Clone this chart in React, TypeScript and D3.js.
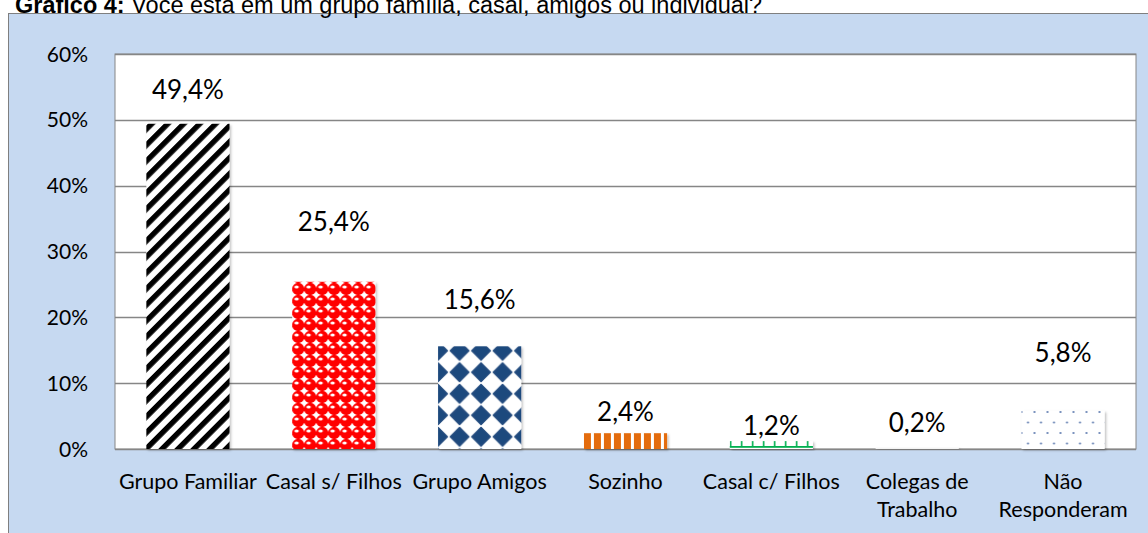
import { useEffect, useRef } from "react";
import * as d3 from "d3";

// chart data
const categories = [
  "Grupo Familiar",
  "Casal s/ Filhos",
  "Grupo Amigos",
  "Sozinho",
  "Casal c/ Filhos",
  "Colegas de Trabalho",
  "Não Responderam",
];
const categoryLines = [
  ["Grupo Familiar"],
  ["Casal s/ Filhos"],
  ["Grupo Amigos"],
  ["Sozinho"],
  ["Casal c/ Filhos"],
  ["Colegas de", "Trabalho"],
  ["Não", "Responderam"],
];
const values = [49.4, 25.4, 15.6, 2.4, 1.2, 0.2, 5.8];
const valueLabels = ["49,4%", "25,4%", "15,6%", "2,4%", "1,2%", "0,2%", "5,8%"];
const yTicks = [0, 10, 20, 30, 40, 50, 60];
const titleBold = "Gráfico 4:";
const titleRest = " Você está em um grupo família, casal, amigos ou individual?";

// label baseline distance above bar top (hand placed in the original)
const LABEL_GAP = [25, 51, 37, 12, 6, 16, 49];
const FILLS = [
  "url(#p-stripe)",
  "url(#p-sphere)",
  "url(#p-diamond)",
  "url(#p-vert)",
  "url(#p-brick)",
  "#f4f4f4",
  "url(#p-dots)",
];

export default function App() {
  const ref = useRef<SVGSVGElement>(null);

  useEffect(() => {
    const svg = d3.select(ref.current);
    svg.selectAll("*").remove();

    const W = 1148;
    const H = 533;
    const PLOT = { LEFT: 115, RIGHT: 1136, TOP: 54, BOTTOM: 449 };
    const labelFont = "Lato, 'Open Sans', sans-serif";

    const x = d3
      .scaleBand<string>()
      .domain(categories)
      .range([PLOT.LEFT, PLOT.RIGHT])
      .paddingInner(0.43)
      .paddingOuter(0.215);
    const y = d3.scaleLinear().domain([0, 60]).range([PLOT.BOTTOM, PLOT.TOP]);

    const defs = svg.append("defs");

    // black wide upward diagonal
    const ps = defs
      .append("pattern")
      .attr("id", "p-stripe")
      .attr("patternUnits", "userSpaceOnUse")
      .attr("width", 11.3)
      .attr("height", 11.3)
      .attr("patternTransform", "rotate(45)");
    ps.append("rect").attr("width", 11.3).attr("height", 11.3).attr("fill", "#fff");
    ps.append("rect").attr("width", 5.4).attr("height", 11.3).attr("fill", "#000");

    // red spheres
    const pr = defs
      .append("pattern")
      .attr("id", "p-sphere")
      .attr("patternUnits", "userSpaceOnUse")
      .attr("x", x(categories[1])!)
      .attr("y", 283)
      .attr("width", 12)
      .attr("height", 12);
    pr.append("rect").attr("width", 12).attr("height", 12).attr("fill", "#fff");
    pr.append("circle").attr("cx", 6).attr("cy", 6).attr("r", 6.1).attr("fill", "#ff0000");
    pr.append("ellipse")
      .attr("cx", 4.4)
      .attr("cy", 4)
      .attr("rx", 2.2)
      .attr("ry", 1.6)
      .attr("fill", "#fff");

    // blue diamonds
    const pd = defs
      .append("pattern")
      .attr("id", "p-diamond")
      .attr("patternUnits", "userSpaceOnUse")
      .attr("x", x(categories[2])! - 10.75)
      .attr("y", 340)
      .attr("width", 21.5)
      .attr("height", 21.5);
    pd.append("rect").attr("width", 21.5).attr("height", 21.5).attr("fill", "#fff");
    pd.append("path")
      .attr("d", "M10.75,1.5 L20,10.75 L10.75,20 L1.5,10.75 Z")
      .attr("fill", "#1f497d")
      .attr("stroke", "#1f497d")
      .attr("stroke-width", 1.5)
      .attr("stroke-linejoin", "round");

    // orange vertical stripes
    const pv = defs
      .append("pattern")
      .attr("id", "p-vert")
      .attr("patternUnits", "userSpaceOnUse")
      .attr("x", x(categories[3])!)
      .attr("width", 10)
      .attr("height", 10);
    pv.append("rect").attr("width", 10).attr("height", 10).attr("fill", "#fff");
    pv.append("rect").attr("width", 7).attr("height", 10).attr("fill", "#e46c0a");

    // green brick
    const pb = defs
      .append("pattern")
      .attr("id", "p-brick")
      .attr("patternUnits", "userSpaceOnUse")
      .attr("x", x(categories[4])! - 5)
      .attr("y", 441)
      .attr("width", 11)
      .attr("height", 12);
    pb.append("rect").attr("width", 11).attr("height", 12).attr("fill", "#fff");
    pb.append("rect").attr("y", 5).attr("width", 11).attr("height", 1.8).attr("fill", "#00b050");
    pb.append("rect").attr("x", 5).attr("width", 1.6).attr("height", 6).attr("fill", "#00b050");

    // sparse dots
    const pdt = defs
      .append("pattern")
      .attr("id", "p-dots")
      .attr("patternUnits", "userSpaceOnUse")
      .attr("x", x(categories[6])! - 3)
      .attr("y", 408)
      .attr("width", 13)
      .attr("height", 21);
    pdt.append("rect").attr("width", 13).attr("height", 21).attr("fill", "#fff");
    pdt.append("circle").attr("cx", 3).attr("cy", 4).attr("r", 1).attr("fill", "#4f6fa8");
    pdt.append("circle").attr("cx", 9.5).attr("cy", 14.5).attr("r", 1).attr("fill", "#4f6fa8");

    const shadow = defs.append("filter").attr("id", "sh").attr("x", "-10%").attr("y", "-10%")
      .attr("width", "130%").attr("height", "130%");
    shadow.append("feDropShadow")
      .attr("dx", 1.5)
      .attr("dy", 1.5)
      .attr("stdDeviation", 1.2)
      .attr("flood-color", "#000")
      .attr("flood-opacity", 0.25);

    // chart area background
    svg.append("rect")
      .attr("x", 8.5)
      .attr("y", 13.5)
      .attr("width", W)
      .attr("height", H)
      .attr("fill", "#c6d9f1")
      .attr("stroke", "#7f7f7f");

    // title (partly cut off at the top, as in the source)
    const t = svg.append("text")
      .attr("x", 15)
      .attr("y", 13)
      .attr("font-family", "'Liberation Sans', Arial, sans-serif")
      .attr("font-size", 23.5)
      .attr("fill", "#000");
    t.append("tspan").attr("font-weight", "bold").text(titleBold);
    t.append("tspan").text(titleRest);

    // plot area
    svg.append("rect")
      .attr("x", PLOT.LEFT)
      .attr("y", PLOT.TOP)
      .attr("width", PLOT.RIGHT - PLOT.LEFT)
      .attr("height", PLOT.BOTTOM - PLOT.TOP)
      .attr("fill", "#fff")
      .attr("stroke", "#868686");

    svg.append("g")
      .selectAll("line")
      .data(yTicks)
      .join("line")
      .attr("x1", PLOT.LEFT)
      .attr("x2", PLOT.RIGHT)
      .attr("y1", (d) => Math.round(y(d)) + 0.5)
      .attr("y2", (d) => Math.round(y(d)) + 0.5)
      .attr("stroke", "#868686")
      .attr("stroke-width", 1.3);

    svg.append("g")
      .selectAll("text")
      .data(yTicks)
      .join("text")
      .attr("x", 88)
      .attr("y", (d) => y(d))
      .attr("dy", "0.36em")
      .attr("text-anchor", "end")
      .attr("font-family", labelFont)
      .attr("font-size", 21)
      .attr("fill", "#000")
      .text((d) => `${d}%`);

    // bars
    svg.append("g")
      .selectAll("rect")
      .data(values)
      .join("rect")
      .attr("x", (_, i) => x(categories[i])!)
      .attr("y", (d) => y(d))
      .attr("width", x.bandwidth())
      .attr("height", (d) => y(0) - y(d))
      .attr("fill", (_, i) => FILLS[i])
      .attr("filter", "url(#sh)");

    // value labels
    svg.append("g")
      .selectAll("text")
      .data(values)
      .join("text")
      .attr("x", (_, i) => x(categories[i])! + x.bandwidth() / 2)
      .attr("y", (d, i) => y(d) - LABEL_GAP[i])
      .attr("text-anchor", "middle")
      .attr("font-family", labelFont)
      .attr("font-size", 26)
      .attr("fill", "#000")
      .text((_, i) => valueLabels[i]);

    // category labels
    const cat = svg.append("g")
      .selectAll("text")
      .data(categoryLines)
      .join("text")
      .attr("x", (_, i) => x(categories[i])! + x.bandwidth() / 2)
      .attr("y", 489)
      .attr("text-anchor", "middle")
      .attr("font-family", labelFont)
      .attr("font-size", 21.5)
      .attr("fill", "#000");
    cat.selectAll("tspan")
      .data((d) => d)
      .join("tspan")
      .attr("x", function () {
        return (this.parentNode as SVGTextElement).getAttribute("x");
      })
      .attr("dy", (_, j) => (j === 0 ? 0 : 28))
      .text((d) => d);
  }, []);

  return (
    <div>
      <svg
        ref={ref}
        width={1148}
        height={533}
        style={{ position: "absolute", left: 0, top: 0 }}
      />
    </div>
  );
}
